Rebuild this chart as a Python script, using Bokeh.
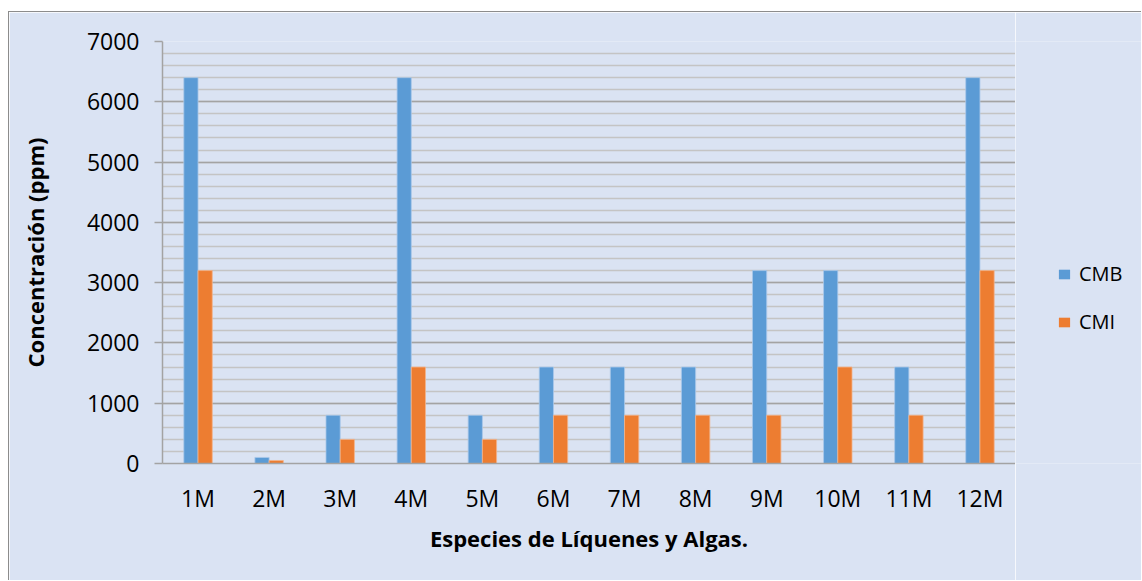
from bokeh.plotting import figure
from bokeh.layouts import row
from bokeh.models import FactorRange, Range1d, SingleIntervalTicker, Legend, LegendItem
from bokeh.transform import dodge
from bokeh.models import ColumnDataSource
from bokeh.embed import file_html
from bokeh.resources import INLINE

categories = ["1M", "2M", "3M", "4M", "5M", "6M", "7M", "8M", "9M", "10M", "11M", "12M"]
cmb = [6400, 100, 800, 6400, 800, 1600, 1600, 1600, 3200, 3200, 1600, 6400]
cmi = [3200, 50, 400, 1600, 400, 800, 800, 800, 800, 1600, 800, 3200]
series_names = ["CMB", "CMI"]
colors = ["#5b9bd5", "#ed7d31"]
edge_colors = ["#a9c8ea", "#f3b48c"]

BG = "#dae3f3"
FONT = "Open Sans"
BORDER = "1px solid #8c8c8c"

src = ColumnDataSource(dict(cat=categories, cmb=cmb, cmi=cmi))

p = figure(width=1006, height=568, x_range=FactorRange(*categories), y_range=Range1d(0, 7000),
           output_backend="svg", toolbar_location=None,
           min_border_left=153, min_border_right=0, min_border_top=29, min_border_bottom=117,
           background_fill_color=BG, border_fill_color=BG)
p.outline_line_color = None

p.vbar(x=dodge("cat", -0.1, range=p.x_range), top="cmb", width=0.2, source=src,
       fill_color=colors[0], line_color=edge_colors[0], line_width=0.8)
p.vbar(x=dodge("cat", 0.1, range=p.x_range), top="cmi", width=0.2, source=src,
       fill_color=colors[1], line_color=edge_colors[1], line_width=0.8)

p.yaxis.ticker = SingleIntervalTicker(interval=1000, num_minor_ticks=5)
p.xgrid.grid_line_color = None
p.ygrid.grid_line_color = "#a3a3a3"
p.ygrid.grid_line_width = 1.5
p.ygrid.minor_grid_line_color = "#c4c4c4"
p.ygrid.minor_grid_line_width = 1.5
p.ygrid.level = "underlay"

for ax in (p.xaxis, p.yaxis):
    ax.axis_line_color = "#a3a3a3"
    ax.axis_line_width = 1.5
    ax.major_label_text_font = FONT
    ax.major_label_text_font_size = "23px"
    ax.major_label_text_color = "#000000"
    ax.axis_label_text_font = FONT
    ax.axis_label_text_font_style = "bold"
    ax.axis_label_text_font_size = "22px"
    ax.axis_label_text_color = "#000000"
    ax.minor_tick_line_color = None

p.yaxis.major_tick_line_color = "#a3a3a3"
p.yaxis.major_tick_line_width = 1.5
p.yaxis.major_tick_out = 8
p.yaxis.major_tick_in = 0
p.yaxis.major_label_standoff = 15
p.yaxis.axis_label = "Concentración (ppm)"
p.yaxis.axis_label_standoff = 34

p.xaxis.major_tick_line_color = None
p.xaxis.major_label_standoff = 12
p.xaxis.axis_label = "Especies de Líquenes y Algas."
p.xaxis.axis_label_standoff = 6

# Legend panel (its frame is aligned with the main plot's frame by the row layout)
p2 = figure(width=126, height=568, x_range=Range1d(0, 1), y_range=Range1d(0, 1),
            output_backend="svg", toolbar_location=None,
            min_border_left=0, min_border_right=0, min_border_top=0, min_border_bottom=0,
            background_fill_color=BG, border_fill_color=BG)
p2.outline_line_color = None
p2.axis.visible = False
p2.grid.visible = False
hidden = ColumnDataSource(dict(x=[5], top=[5]))
lr1 = p2.vbar(x="x", top="top", width=0.1, source=hidden, fill_color=colors[0], line_color=None)
lr2 = p2.vbar(x="x", top="top", width=0.1, source=hidden, fill_color=colors[1], line_color=None)

legend = Legend(items=[LegendItem(label=series_names[0], renderers=[lr1]),
                       LegendItem(label=series_names[1], renderers=[lr2])],
                location="top_left", orientation="vertical",
                title=" ", title_text_font_size="10px", title_standoff=166,
                background_fill_alpha=0, border_line_color=None,
                padding=0, margin=42, spacing=21, glyph_width=14, glyph_height=12,
                label_height=20, label_width=50, label_standoff=8,
                label_text_font=FONT, label_text_font_size="20px", label_text_color="#000000")
p2.add_layout(legend, "center")

layout = row(p, p2, spacing=0,
             styles={"margin-top": "11px", "margin-left": "8px",
                     "border-top": BORDER, "border-left": BORDER})
open("out.html", "w").write(file_html(layout, INLINE))
